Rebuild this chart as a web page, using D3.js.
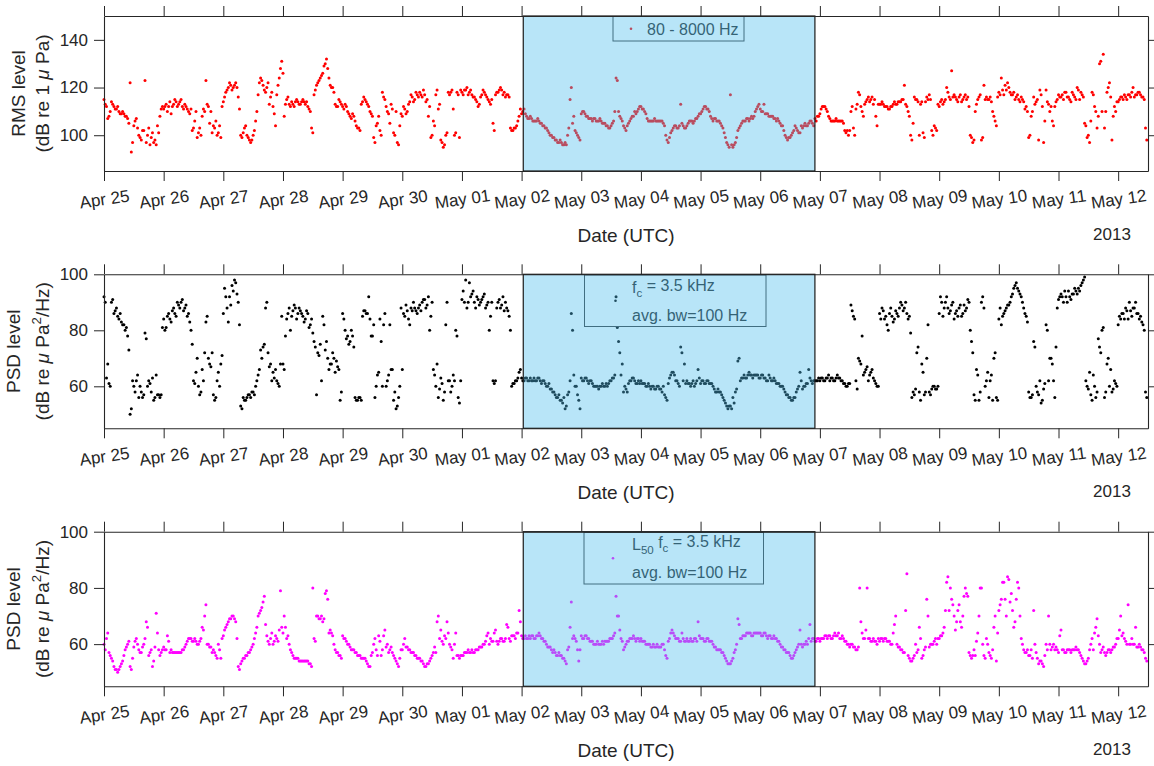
<!DOCTYPE html>
<html>
<head>
<meta charset="utf-8">
<script src="https://cdn.jsdelivr.net/npm/d3@7"></script>
<style>
  body { margin: 0; background: #fff; }
  text { font-family: "Liberation Sans", Arial, sans-serif; fill: #262626; }
</style>
</head>
<body>
<svg id="chart" width="1154" height="766"></svg>
<script>
// samples start 2013-04-25 00:00 UTC; *Level arrays are on the hour, *Half arrays at hh:30
const startDate = Date.UTC(2013, 3, 25);
const endDate = Date.UTC(2013, 4, 12, 12);
const shadeFrom = Date.UTC(2013, 4, 2, 0, 40);
const shadeTo = Date.UTC(2013, 4, 6, 22, 0);

// RMS level 80 - 8000 Hz (dB re 1 uPa), one row per day
const rmsLevel = [
  115,112,108,114,112,111,110,109,109,108,105,93,104,107,100,98,102,97,103,99,97,96,101,111,
  111,113,112,109,113,114,113,115,111,112,110,111,103,110,101,100,111,123,112,110,104,106,101,99,
  114,118,120,121,120,122,116,100,101,104,99,97,100,106,117,124,121,118,122,116,112,104,121,128,
  126,113,116,112,113,114,114,113,115,113,112,110,101,119,122,124,126,130,128,121,120,113,112,114,
  112,113,110,108,109,106,103,102,114,115,113,110,108,97,105,102,118,115,110,105,111,100,97,104,
  108,111,110,114,116,115,117,118,116,117,115,112,100,104,119,113,97,96,101,117,119,100,118,99,
  118,119,120,118,117,116,114,113,117,118,116,114,115,102,118,119,119,118,117,116,102,103,104,108,
  109,111,108,107,107,106,106,106,105,104,103,101,100,99,98,97,97,96,96,103,120,108,101,99,
  109,110,108,107,107,107,106,106,106,105,104,103,104,106,124,110,107,104,102,105,107,108,109,111,
  112,111,109,106,106,106,106,106,106,105,100,97,101,103,104,103,113,104,103,105,106,105,107,108,
  109,111,112,111,108,106,107,106,105,103,99,96,117,95,97,102,104,106,106,107,107,107,110,112,
  111,110,109,109,108,108,107,107,105,104,100,98,99,101,104,102,101,103,105,104,106,105,107,108,
  109,112,112,110,107,106,106,106,106,106,102,102,102,112,100,113,117,110,113,115,114,116,115,104,
  113,114,112,112,111,112,114,113,114,115,121,112,108,98,116,115,100,114,99,116,117,102,104,102,
  112,115,114,120,116,127,117,115,116,114,116,115,112,99,98,113,116,98,121,116,115,114,108,104,
  118,124,117,119,120,117,118,116,115,116,114,112,99,108,116,114,98,117,97,119,113,112,104,114,
  117,116,115,118,116,114,117,115,119,118,116,104,100,106,117,110,108,131,134,110,120,116,108,110,
  114,116,115,116,117,116,120,117,118,117,116,103
];
const rmsHalf = [
  113,107,110,113,111,112,109,110,108,107,122,97,106,103,99,102,123,100,96,101,98,104,108,112,
  112,110,114,112,115,112,114,112,113,111,109,102,106,99,103,108,110,113,105,101,103,100,104,112,
  116,119,122,119,121,120,111,99,103,100,98,98,102,110,122,123,119,120,113,118,109,117,124,131,
  108,115,113,114,112,115,113,114,114,114,111,103,117,121,123,125,129,132,124,120,118,112,115,113,
  111,112,109,107,108,104,103,113,116,114,112,109,99,104,108,100,116,112,109,113,101,110,96,109,
  112,109,113,117,114,118,116,117,119,114,108,99,106,117,111,98,95,100,118,118,111,101,117,119,
  117,119,117,119,116,115,112,116,119,117,115,113,105,117,118,120,117,116,117,103,102,103,106,111,
  110,109,107,108,106,106,107,105,104,103,102,100,99,98,97,98,96,97,100,115,105,102,100,98,
  110,109,108,107,106,107,106,107,105,105,104,103,105,110,123,108,106,103,104,106,108,110,110,112,
  111,110,107,106,106,107,106,106,106,104,98,99,102,104,103,104,105,103,104,106,106,106,107,109,
  110,112,111,110,107,107,106,106,104,101,97,95,96,96,99,103,105,106,107,106,108,108,111,113,
  110,113,109,108,108,107,106,106,104,102,99,99,100,102,103,101,104,104,104,105,106,104,106,108,
  111,112,111,108,106,106,107,106,106,105,101,100,110,103,111,118,112,108,114,116,115,113,108,113,
  113,113,112,111,112,113,113,114,114,115,113,110,100,105,115,114,113,101,114,115,115,100,103,113,
  114,113,115,118,115,116,116,114,117,115,117,116,100,97,110,115,117,99,115,115,116,110,106,116,
  117,119,121,122,118,117,115,117,114,115,111,110,100,110,113,115,119,112,106,114,110,106,112,115,
  116,117,118,116,115,118,116,120,115,117,105,99,97,118,112,103,130,110,103,118,122,98,112,114,
  115,116,117,115,117,118,116,117,118,116,115,98
];

// PSD level at fc = 3.5 kHz (dB re uPa^2/Hz)
const psdLevel = [
  92,63,61,90,86,88,84,83,82,81,73,52,60,62,56,58,57,77,62,58,55,64,57,57,
  84,81,86,83,88,85,89,90,87,89,86,80,62,65,60,58,62,83,70,67,57,56,65,68,
  86,92,83,89,94,97,90,53,56,55,57,56,58,60,64,73,74,88,72,68,65,66,61,68,
  68,78,86,80,87,88,86,87,85,84,86,82,79,74,72,75,85,73,70,68,72,65,67,55,
  86,80,78,76,78,56,55,56,85,87,86,84,78,56,64,84,60,86,62,82,66,58,53,60,
  66,85,87,82,87,88,86,89,90,91,89,80,90,64,68,59,61,58,90,62,60,62,78,54,
  91,90,88,97,93,90,92,89,91,93,89,80,90,61,88,91,89,87,88,85,60,61,62,65,
  63,62,63,62,62,63,62,63,61,62,60,61,59,58,56,57,55,56,53,58,86,64,60,55,
  63,62,63,61,62,60,60,59,60,60,61,61,62,63,92,76,64,58,59,61,62,63,61,62,
  62,61,60,61,59,60,59,60,59,60,56,61,64,65,62,61,74,62,61,61,60,62,61,66,
  61,62,61,62,61,60,58,59,58,56,54,52,53,56,58,69,62,63,63,64,64,63,64,64,
  63,64,63,62,63,62,62,61,60,60,58,57,56,55,56,59,65,59,60,61,63,61,62,62,
  62,63,62,63,62,63,62,64,63,62,61,60,61,87,84,59,69,78,65,67,64,66,62,60,
  86,88,84,82,86,85,84,86,88,89,88,86,85,56,57,72,58,68,57,70,58,59,60,59,
  86,90,88,92,86,89,84,87,88,85,89,88,90,76,57,66,55,90,88,62,56,64,70,56,
  84,82,86,88,89,92,95,97,94,92,88,85,58,56,76,60,57,54,59,82,62,70,62,74,
  91,93,90,92,94,91,93,94,95,96,98,62,59,57,64,56,77,72,81,58,70,66,59,61,
  82,84,86,88,84,87,88,90,86,85,82,58
];
const psdHalf = [
  90,68,60,91,87,85,86,82,80,78,50,62,58,64,60,56,79,60,61,63,56,57,56,81,
  80,85,84,87,86,90,88,91,88,85,83,75,61,70,57,66,72,85,68,72,55,62,60,71,
  95,88,92,96,98,93,82,52,55,56,57,58,57,62,66,70,75,90,67,62,63,62,60,85,
  66,84,88,85,89,84,88,86,83,87,81,84,76,57,71,62,82,76,66,68,70,69,66,58,
  84,77,75,80,74,55,56,55,87,86,92,78,82,60,65,76,82,60,64,66,55,52,56,88,
  86,89,84,88,90,87,88,87,91,88,92,85,66,60,56,63,55,82,62,58,64,80,56,62,
  94,98,90,92,94,88,91,90,92,88,90,85,62,62,90,88,92,90,87,80,61,62,63,66,
  62,63,62,63,62,62,63,62,62,61,60,59,58,57,56,55,54,52,57,62,80,60,57,52,
  62,63,62,62,61,60,60,60,61,60,60,62,63,64,81,72,68,60,58,62,63,62,61,61,
  61,61,60,60,60,59,60,59,58,57,55,63,65,64,62,60,72,68,62,61,61,60,62,63,
  62,61,62,61,61,59,58,58,57,55,53,53,52,54,59,70,63,64,63,65,64,64,64,63,
  64,63,62,64,62,63,61,61,60,59,57,56,55,56,58,60,62,60,61,66,62,62,62,63,
  63,62,63,64,63,62,63,63,62,61,60,61,89,85,62,70,68,64,66,62,65,63,61,60,
  84,87,85,80,88,83,87,85,90,87,90,84,79,58,59,74,55,65,58,82,57,60,59,60,
  92,85,90,88,87,90,86,85,89,86,87,91,80,72,55,64,58,92,60,65,62,55,72,55,
  88,85,87,89,90,93,96,95,93,90,86,83,56,57,74,58,62,55,61,80,70,68,56,88,
  92,92,94,90,92,93,95,93,94,97,99,60,65,55,60,58,74,80,56,68,60,58,62,60,
  85,86,84,87,90,85,88,86,84,83,80,56
];

// L50 PSD level at fc = 3.5 kHz (dB re uPa^2/Hz)
const l50Level = [
  60,62,57,55,52,51,51,53,56,59,61,51,59,62,58,57,60,68,56,58,54,71,58,57,
  59,58,61,58,57,57,57,57,58,60,62,62,61,61,60,62,65,74,60,59,58,56,60,55,
  63,66,68,69,70,68,52,53,55,56,57,58,60,64,70,72,75,67,61,62,60,63,61,79,
  64,66,63,58,56,55,55,54,54,54,54,53,80,61,70,69,68,78,76,65,63,58,57,56,
  63,62,60,59,58,57,56,56,55,55,53,52,57,62,56,61,58,65,60,58,57,55,53,55,
  58,62,59,58,57,56,55,55,54,52,53,54,56,59,68,62,61,63,68,60,58,60,56,55,
  56,57,57,57,58,57,58,59,59,60,63,60,61,64,61,61,62,61,67,62,63,63,64,72,
  63,62,62,63,63,62,63,64,62,61,60,59,58,58,56,57,56,55,53,59,75,63,61,54,
  63,62,63,62,61,60,60,60,60,60,61,61,62,63,77,70,62,58,60,61,62,63,61,62,
  62,61,60,60,59,60,59,59,59,60,56,61,64,64,62,62,61,62,61,61,62,61,62,68,
  62,62,61,62,61,60,59,58,58,57,55,53,53,55,58,69,62,63,63,64,64,63,64,64,
  64,63,64,62,63,62,62,61,60,59,58,57,56,55,57,59,65,59,60,60,67,62,61,62,
  61,62,63,62,63,62,64,63,62,63,61,60,59,60,59,58,80,64,62,80,62,61,61,60,
  61,62,62,61,61,60,67,60,59,58,57,85,55,54,56,57,66,55,58,76,59,60,61,60,
  62,63,66,82,72,76,70,68,74,66,77,78,57,55,58,61,70,80,56,62,57,55,66,54,
  72,76,82,70,83,78,66,76,80,62,58,57,56,58,72,57,53,54,52,60,70,58,60,59,
  57,65,58,57,58,57,58,59,58,56,54,53,55,60,58,66,63,57,59,56,58,57,59,60,
  62,70,64,61,74,60,60,66,59,59,58,55
];
const l50Half = [
  58,64,56,54,51,50,52,54,58,60,52,55,61,60,57,59,62,66,57,52,59,64,56,58,
  58,63,57,57,57,57,57,58,59,61,62,61,62,60,61,66,70,60,59,57,57,55,58,62,
  65,67,69,70,69,62,51,54,55,56,57,59,62,66,71,73,77,63,60,64,61,62,65,66,
  70,62,60,57,55,55,54,54,54,54,53,52,62,70,69,70,69,79,64,64,60,57,56,55,
  62,61,60,58,58,57,56,55,55,54,52,56,60,58,63,56,63,59,57,59,56,54,52,58,
  60,59,58,57,57,56,55,54,53,52,53,55,57,57,70,65,60,62,64,59,55,64,56,56,
  56,57,58,57,57,58,58,59,60,61,64,62,61,65,60,62,61,62,66,61,63,62,64,68,
  62,63,62,62,63,62,63,63,62,61,59,59,57,57,56,56,55,54,58,66,62,62,58,58,
  62,63,62,61,61,60,61,60,61,61,61,62,62,64,70,65,61,59,61,62,62,62,62,61,
  61,61,60,60,59,59,60,59,60,58,55,62,65,63,62,61,64,61,62,61,61,62,61,63,
  62,61,62,61,61,59,58,58,57,56,54,53,54,57,60,67,62,63,64,64,63,64,64,64,
  63,64,63,63,62,63,62,61,59,58,57,57,55,56,58,60,60,60,61,62,61,62,61,62,
  62,62,63,63,62,63,63,64,62,62,61,60,60,59,58,59,68,62,65,62,61,62,61,62,
  62,61,62,61,60,64,70,59,58,57,72,56,54,55,60,58,62,56,59,70,60,60,62,62,
  63,64,72,84,80,74,65,72,68,70,80,77,56,56,56,64,80,60,55,60,56,58,70,64,
  74,82,76,84,75,72,68,82,70,60,57,58,56,55,60,55,54,53,56,58,60,59,58,58,
  63,58,57,58,58,58,58,58,57,55,53,54,58,62,64,69,60,58,57,57,58,58,59,62,
  65,63,62,60,60,62,60,59,60,58,57,54
];

const rmsTicks = [100, 120, 140];
const psdTicks = [60, 80, 100];
const rmsLegend = ['80 - 8000 Hz'];
const psdLegend = [['f', 'c', ' = 3.5 kHz'], 'avg. bw=100 Hz'];
const l50Legend = [['L', '50', ' f', 'c', ' = 3.5 kHz'], 'avg. bw=100 Hz'];

const FONT = '"Liberation Sans", Arial, sans-serif';
const svg = d3.select('#chart');
const x = d3.scaleUtc()
  .domain([new Date(startDate), new Date(endDate)])
  .range([104, 1148]);
const dayFmt = d3.utcFormat('%b %d');

// merge on-the-hour and half-past readings into one point list
function series(onHour, halfPast) {
  const pts = [];
  onHour.forEach((v, i) => pts.push({ t: new Date(startDate + i * 3600e3), v }));
  halfPast.forEach((v, i) => pts.push({ t: new Date(startDate + (i + 0.5) * 3600e3), v }));
  return pts;
}

const panels = [
  { data: series(rmsLevel, rmsHalf), color: '#ff0000', top: 16, bottom: 171, domain: [85, 150], ticks: rmsTicks,
    label: 'RMS level', unit: 'rms', label1X: 25,
    legend: { x: 613, y: 16.5, w: 131, h: 24.5, lines: rmsLegend, mx: 631 } },
  { data: series(psdLevel, psdHalf), color: '#000000', top: 274.3, bottom: 428.3, domain: [45, 100], ticks: psdTicks,
    label: 'PSD level', unit: 'psd', label1X: 20,
    legend: { x: 584.5, y: 275, w: 181.5, h: 51.5, lines: psdLegend, mx: 615.5 } },
  { data: series(l50Level, l50Half), color: '#ff00ff', top: 531.7, bottom: 686.3, domain: [45, 100], ticks: psdTicks,
    label: 'PSD level', unit: 'psd', label1X: 20,
    legend: { x: 584, y: 532.5, w: 179.5, h: 51.5, lines: l50Legend, mx: 613 } }
];

function writeSubs(text, parts) {
  // parts alternate normal / subscript
  parts.forEach((s, k) => {
    const t = text.append('tspan').text(s);
    if (k % 2 === 1) t.attr('font-size', '0.72em').attr('dy', '0.35em');
    else if (k > 0) t.attr('dy', '-0.35em');
  });
}

panels.forEach(p => {
  const y = d3.scaleLinear().domain(p.domain).range([p.bottom, p.top]);
  const g = svg.append('g');

  g.append('g')
    .selectAll('circle')
    .data(p.data)
    .join('circle')
    .attr('cx', d => x(d.t))
    .attr('cy', d => y(d.v))
    .attr('r', 1.5)
    .attr('fill', p.color);

  // legend
  const lg = p.legend;
  g.append('rect')
    .attr('x', lg.x).attr('y', lg.y).attr('width', lg.w).attr('height', lg.h)
    .attr('fill', 'none').attr('stroke', '#3a3a3a').attr('stroke-width', 1);
  g.append('circle')
    .attr('cx', lg.mx).attr('cy', lg.y + lg.h / 2).attr('r', 1.3).attr('fill', p.color);
  lg.lines.forEach((line, k) => {
    const n = lg.lines.length;
    const t = g.append('text')
      .attr('x', n === 1 ? 647 : 632)
      .attr('y', n === 1 ? lg.y + 18.5 : lg.y + 17.5 + k * 28)
      .attr('font-size', 16);
    if (Array.isArray(line)) writeSubs(t, line); else t.text(line);
  });

  // shaded interval, drawn over the points
  g.append('rect')
    .attr('x', x(new Date(shadeFrom)))
    .attr('y', p.top)
    .attr('width', x(new Date(shadeTo)) - x(new Date(shadeFrom)))
    .attr('height', p.bottom - p.top)
    .attr('fill', 'rgb(77,190,238)')
    .attr('fill-opacity', 0.4)
    .attr('stroke', '#1a1a1a')
    .attr('stroke-width', 1.2);

  // axes, ticks outward on all four sides
  const dayTicks = x.ticks(d3.utcDay.every(1));
  const axes = g.append('g').attr('color', '#262626');

  const bottom = axes.append('g')
    .attr('transform', `translate(0,${p.bottom})`)
    .call(d3.axisBottom(x).tickValues(dayTicks).tickFormat(dayFmt).tickSize(10).tickSizeOuter(0));
  bottom.selectAll('.tick text')
    .attr('y', 0).attr('dy', '0.35em')
    .attr('transform', 'translate(0,28) rotate(-8)');

  axes.append('g')
    .attr('transform', `translate(0,${p.top})`)
    .call(d3.axisTop(x).tickValues(dayTicks).tickFormat('').tickSize(10).tickSizeOuter(0));

  axes.append('g')
    .attr('transform', 'translate(104,0)')
    .call(d3.axisLeft(y).tickValues(p.ticks).tickSize(10).tickPadding(6).tickSizeOuter(0));

  axes.append('g')
    .attr('transform', 'translate(1148,0)')
    .call(d3.axisRight(y).tickValues(p.ticks).tickFormat('').tickSize(10).tickSizeOuter(0));

  axes.selectAll('g').attr('font-size', 17).attr('font-family', FONT);
  axes.selectAll('.domain').attr('stroke-width', 1.1);

  // axis titles
  g.append('text')
    .attr('x', 626).attr('y', p.bottom + 71)
    .attr('text-anchor', 'middle').attr('font-size', 19)
    .text('Date (UTC)');
  g.append('text')
    .attr('x', 1112).attr('y', p.bottom + 69)
    .attr('text-anchor', 'middle').attr('font-size', 17)
    .text('2013');

  const cy = (p.top + p.bottom) / 2;
  g.append('text')
    .attr('transform', `translate(${p.label1X},${cy}) rotate(-90)`)
    .attr('text-anchor', 'middle').attr('font-size', 19)
    .text(p.label);
  const u = g.append('text')
    .attr('transform', `translate(48.5,${cy}) rotate(-90)`)
    .attr('text-anchor', 'middle').attr('font-size', 19);
  if (p.unit === 'rms') {
    u.append('tspan').text('(dB re 1 ');
    u.append('tspan').attr('font-style', 'italic').text('\u03bc');
    u.append('tspan').text(' Pa)');
  } else {
    u.append('tspan').text('(dB re ');
    u.append('tspan').attr('font-style', 'italic').text('\u03bc');
    u.append('tspan').text(' Pa');
    u.append('tspan').attr('font-size', '0.7em').attr('dy', '-0.6em').text('2');
    u.append('tspan').attr('dy', '0.42em').text('/Hz)');
  }
});
</script>
</body>
</html>
